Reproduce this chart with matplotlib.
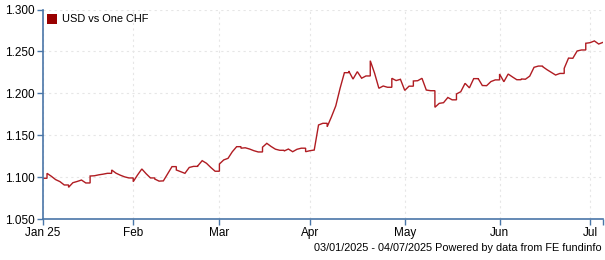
import numpy as np
import pandas as pd
import matplotlib
matplotlib.use("Agg")
import matplotlib.pyplot as plt
from matplotlib.patches import Rectangle

# USD per one CHF, business days 03/01/2025 - 04/07/2025
dates = pd.bdate_range("2025-01-03", "2025-07-04")
usd_chf = [
    1.0986, 1.1045, 1.1010, 1.0970, 1.0946, 1.0906, 1.0878, 1.0933, 1.0948, 1.0965,
    1.0930, 1.1013, 1.1016, 1.1027, 1.1035, 1.1045, 1.1085, 1.1047, 1.1023, 1.1003,
    1.0990, 1.0945, 1.1025, 1.1097, 1.1040, 1.0990, 1.0977, 1.0952, 1.0955, 1.1040,
    1.1125, 1.1085, 1.1065, 1.1045, 1.1115, 1.1128, 1.1135, 1.1196, 1.1165, 1.1115,
    1.1070, 1.1156, 1.1205, 1.1224, 1.1303, 1.1363, 1.1345, 1.1350, 1.1335, 1.1315,
    1.1300, 1.1357, 1.1403, 1.1365, 1.1333, 1.1320, 1.1311, 1.1335, 1.1303, 1.1332,
    1.1345, 1.1303, 1.1315, 1.1323, 1.1622, 1.1642, 1.1600, 1.1720, 1.1850, 1.2060,
    1.2246, 1.2266, 1.2170, 1.2258, 1.2180, 1.2207, 1.2389, 1.2240, 1.2060, 1.2087,
    1.2072, 1.2179, 1.2152, 1.2167, 1.2035, 1.2085, 1.2147, 1.2150, 1.2179, 1.2039,
    1.2031, 1.1833, 1.1880, 1.1888, 1.1950, 1.1922, 1.1992, 1.2019, 1.2119, 1.2065,
    1.2175, 1.2179, 1.2093, 1.2091, 1.2140, 1.2160, 1.2230, 1.2138, 1.2230, 1.2195,
    1.2162, 1.2171, 1.2168, 1.2205, 1.2310, 1.2325, 1.2318, 1.2282, 1.2250, 1.2218,
    1.2237, 1.2298, 1.2420, 1.2418, 1.2505, 1.2517, 1.2597, 1.2604, 1.2625, 1.2588,
    1.2608,
]
month_labels = ["Jan 25", "Feb", "Mar", "Apr", "May", "Jun", "Jul"]
yticks = [1.05, 1.10, 1.15, 1.20, 1.25, 1.30]

# x = trading-day index; weekend points sit on the Monday with Friday's value
xs, ys = [0], [usd_chf[0]]
for i in range(1, len(dates)):
    if dates[i].dayofweek == 0:
        xs.append(i)
        ys.append(usd_chf[i - 1])
    xs.append(i)
    ys.append(usd_chf[i])

month_pos = [0] + [i for i in range(1, len(dates)) if dates[i].month != dates[i - 1].month]

plt.rcParams['font.family'] = ['Liberation Sans', 'DejaVu Sans']
W, H = 605, 260
fig = plt.figure(figsize=(W / 100, H / 100), dpi=100)
ax = fig.add_axes([42.7 / W, 41 / H, (603 - 42.7) / W, 209.5 / H])

ax.plot(xs, ys, color='#b01c22', lw=1.0, solid_joinstyle='miter')

ax.set_xlim(0, len(dates) - 1)
ax.set_ylim(1.05, 1.30)
ax.set_xticks(month_pos)
ax.set_xticklabels(month_labels)
ax.set_xticks([len(dates) - 1], minor=True)
ax.set_yticks(yticks)
ax.set_yticklabels(['%.3f' % v for v in yticks])

ax.grid(True, color='#e6e6e6', linestyle=(0, (2, 3)), lw=0.8)
for s in ['top', 'right']:
    ax.spines[s].set_visible(False)
for s in ['left', 'bottom']:
    ax.spines[s].set_color('#4a76a8')
    ax.spines[s].set_linewidth(1.2)
ax.tick_params(axis='both', which='both', length=4, width=1, color='#4a76a8',
               labelsize=8.5, labelcolor='black', pad=2)

# legend box + label (figure pixel coords)
fig.patches.append(Rectangle((47 / W, 1 - 24 / H), 10 / W, 10 / H, transform=fig.transFigure,
                             facecolor='#990000', edgecolor='none'))
fig.text(62 / W, 1 - 19.5 / H, 'USD vs One CHF', fontsize=7.9, va='center', ha='left')

fig.text(602 / W, 1 - 248 / H, '03/01/2025 - 04/07/2025 Powered by data from FE fundinfo',
         fontsize=7.8, ha='right', va='center')

plt.savefig('out.png', dpi=100)
